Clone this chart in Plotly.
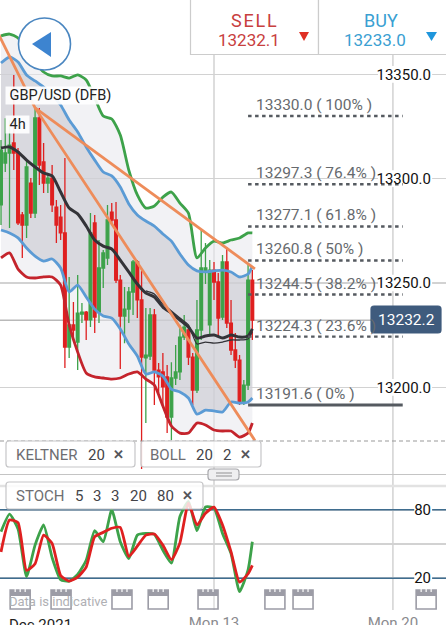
import plotly.graph_objects as go

WIDTH, HEIGHT = 446, 625

# 4h candles, numbered from the left edge of the window
OPEN = [13287.4, 13307.5, 13312.3, 13317.1, 13312.8, 13282.6, 13277.8, 13297.9, 13283.5, 13329.1,
        13308.0, 13297.9, 13300.3, 13286.4, 13281.6, 13274.0, 13219.3, 13229.9, 13221.7, 13235.1,
        13236.1, 13232.3, 13278.8, 13236.1, 13257.2, 13262.0, 13284.0, 13280.2, 13251.4, 13234.2,
        13237.5, 13245.7, 13260.1, 13241.9, 13214.1, 13215.0, 13234.7, 13208.3, 13207.4, 13205.0,
        13185.8, 13204.5, 13207.4, 13224.1, 13227.5, 13214.5, 13198.7, 13227.5, 13255.3, 13229.9,
        13256.2, 13250.5, 13233.7, 13260.1, 13230.8, 13217.9, 13213.1, 13193.0, 13201.1, 13251.4]
HIGH = [13318.5, 13329.0, 13328.0, 13349.7, 13314.7, 13284.0, 13308.9, 13300.3, 13333.9, 13333.9,
        13317.1, 13301.8, 13306.5, 13289.8, 13287.4, 13309.9, 13252.9, 13240.9, 13253.8, 13240.4,
        13236.6, 13283.5, 13282.6, 13270.6, 13265.8, 13287.4, 13288.3, 13288.8, 13253.8, 13248.1,
        13248.1, 13261.0, 13261.0, 13255.8, 13238.0, 13238.0, 13237.5, 13211.7, 13216.5, 13210.7,
        13212.1, 13220.3, 13229.9, 13234.7, 13228.9, 13216.5, 13241.9, 13275.4, 13269.2, 13261.0,
        13260.1, 13254.8, 13263.4, 13267.3, 13241.9, 13226.0, 13215.5, 13203.5, 13258.6, 13256.2]
LOW = [13277.8, 13303.2, 13276.4, 13304.1, 13277.8, 13262.0, 13271.6, 13281.1, 13281.1, 13297.0,
       13293.1, 13293.1, 13284.0, 13269.2, 13270.6, 13209.3, 13214.1, 13224.1, 13208.3, 13230.8,
       13222.7, 13228.9, 13226.0, 13230.8, 13247.6, 13258.6, 13277.8, 13250.0, 13208.8, 13221.2,
       13230.8, 13234.7, 13233.2, 13160.9, 13182.9, 13213.1, 13191.5, 13197.3, 13190.6, 13178.1,
       13174.8, 13201.1, 13203.5, 13222.7, 13210.7, 13191.5, 13197.3, 13222.7, 13249.5, 13225.1,
       13241.9, 13224.1, 13232.3, 13228.4, 13215.5, 13209.3, 13191.6, 13191.6, 13198.7, 13222.7]
CLOSE = [13313.7, 13312.3, 13316.1, 13312.3, 13278.8, 13277.8, 13305.6, 13283.5, 13329.1, 13306.5,
         13297.9, 13300.3, 13287.4, 13277.8, 13274.0, 13219.3, 13229.9, 13227.5, 13235.6, 13236.1,
         13232.3, 13274.0, 13233.7, 13257.2, 13264.4, 13280.2, 13280.2, 13251.4, 13234.2, 13237.5,
         13245.7, 13260.1, 13241.9, 13214.5, 13215.5, 13234.7, 13208.3, 13205.0, 13200.2, 13185.8,
         13204.5, 13207.4, 13224.1, 13228.9, 13214.5, 13198.7, 13227.5, 13257.2, 13257.2, 13256.2,
         13250.5, 13233.2, 13260.1, 13230.8, 13217.9, 13213.1, 13193.0, 13201.1, 13251.4, 13232.2]
CANDLE = list(range(len(OPEN)))

# Indicator samples, taken every second candle
LINE_X = [0, 2, 4, 6, 8, 10, 12, 14, 16, 18, 20, 22, 24, 26, 28, 30, 32, 34, 36, 38, 40, 42, 44,
          46, 48, 50, 52, 54, 56, 58, 59]
KELTNER_UPPER = [13368.4, 13369.3, 13367.4, 13361.7, 13355.9, 13351.1, 13349.2, 13349.2, 13348.2,
                 13349.7, 13347.3, 13338.7, 13330.0, 13328.6, 13320.9, 13304.1, 13292.2, 13285.9,
                 13286.9, 13291.2, 13293.6, 13288.3, 13283.5, 13262.0, 13266.8, 13270.1, 13269.2,
                 13270.6, 13271.6, 13274.0, 13274.0]
BOLL_UPPER = [13355.4, 13358.3, 13355.9, 13349.7, 13346.8, 13343.9, 13340.1, 13335.3, 13328.1,
              13322.4, 13315.2, 13308.9, 13303.2, 13301.3, 13296.0, 13287.9, 13282.6, 13279.7,
              13277.3, 13273.5, 13270.1, 13263.9, 13258.6, 13255.8, 13255.3, 13255.8, 13256.2,
              13255.3, 13252.9, 13254.3, 13258.1]
MIDDLE = [13314.7, 13315.2, 13312.8, 13308.9, 13305.6, 13302.7, 13301.3, 13293.6, 13285.9, 13283.1,
          13277.3, 13270.6, 13267.7, 13266.3, 13261.0, 13255.3, 13249.5, 13245.2, 13243.3, 13238.5,
          13235.6, 13232.3, 13228.9, 13223.6, 13224.6, 13225.1, 13223.6, 13225.1, 13224.1, 13224.6,
          13228.0]
MIDDLE2_X = [34, 36, 38, 40, 42, 44, 46, 48, 50, 52, 54, 56, 58, 59]
MIDDLE2 = [13246.2, 13244.7, 13239.9, 13236.6, 13233.2, 13229.9, 13220.8, 13221.7, 13221.2, 13221.7,
           13222.7, 13222.7, 13223.2, 13226.5]
BOLL_LOWER = [13275.4, 13274.0, 13271.6, 13266.8, 13262.9, 13260.5, 13261.5, 13257.2, 13245.7,
              13249.0, 13243.3, 13237.5, 13234.2, 13233.2, 13228.0, 13220.8, 13215.0, 13206.4,
              13207.4, 13205.4, 13199.2, 13197.8, 13194.9, 13187.2, 13189.1, 13188.7, 13188.2,
              13193.0, 13192.5, 13193.0, 13194.9]
KELTNER_LOWER = [13262.0, 13264.4, 13256.7, 13252.9, 13252.4, 13252.9, 13252.9, 13249.0, 13229.9,
                 13216.9, 13206.9, 13205.0, 13204.5, 13204.0, 13204.5, 13206.4, 13207.4, 13204.0,
                 13201.1, 13191.1, 13181.5, 13178.1, 13178.1, 13182.9, 13182.0, 13179.6, 13179.1,
                 13179.1, 13176.2, 13178.1, 13182.9]

STOCH_K = [60.8, 76.2, 63.2, 21.5, 49.0, 66.7, 38.1, 18.8, 17.4, 23.3, 35.7, 61.7, 52.0, 80.0, 52.0,
           37.2, 57.8, 59.3, 58.4, 44.5, 33.3, 74.1, 87.4, 61.7, 82.4, 81.5, 59.3, 41.6, 8.2, 27.4,
           52.0]
STOCH_D = [43.1, 71.1, 68.8, 26.8, 32.7, 57.8, 50.5, 22.4, 17.4, 20.9, 29.8, 56.4, 60.2, 63.8, 64.6,
           39.2, 48.1, 57.8, 58.7, 49.0, 36.3, 51.0, 85.9, 66.7, 77.0, 82.4, 66.7, 43.1, 16.5, 23.9,
           31.3]

# Fibonacci retracement levels
FIB_LEVELS = [13330.0, 13297.3, 13277.1, 13260.8, 13244.5, 13224.3, 13191.6]
FIB_PERCENT = ["100%", "76.4%", "61.8%", "50%", "38.2%", "23.6%", "0%"]

# Fan drawn from the swing high
FAN_X = [-1, 8, 59.6]
FAN_STEEP = [13371.0, 13333.9, 13174.6]
FAN_SHALLOW = [13333.9, 13256.8]

PRICE_TICKS = [13350, 13300, 13250, 13200]
PRICE_TICK_TEXT = ["13350.0", "13300.0", "13250.0", "13200.0"]
STOCH_TICKS = [0, 20, 50, 80, 100]
STOCH_TICK_TEXT = ["", "20", "", "80", ""]
WEEK_TICKS = [50, 92]
WEEK_TICK_TEXT = ["Mon 13", "Mon 20"]
EVENT_CANDLES = [4.5, 14.1, 28.4, 36.9, 48.6, 64.3, 70.9, 99.8]
LAST_PRICE = 13232.2
SELL_PRICE = "13232.1"
BUY_PRICE = "13233.0"

X_RANGE = [-0.235, 104.46]
PRICE_RANGE = [13158.5, 13385.6]

GREEN = "#3da24a"
RED = "#df2020"
BLUE = "#5b9bd5"
BLACK = "#333338"
DARK_RED = "#c4242c"
ORANGE = "#ee8c5a"
GRID = "#d2d2d2"
LEVEL = "#3f6d8f"
FONT = "Roboto"


def px(x):
    return x / WIDTH


def py(y):
    return 1 - y / HEIGHT


def idx_px(i):
    return (i - X_RANGE[0]) / (X_RANGE[1] - X_RANGE[0]) * WIDTH


fig = go.Figure()

# Channel fills sit on the base subplot so the candles stay on top of them
fig.add_trace(go.Scatter(x=LINE_X, y=KELTNER_UPPER, mode="lines", line=dict(width=0, shape="spline", smoothing=0.6)))
fig.add_trace(go.Scatter(x=LINE_X, y=KELTNER_LOWER, mode="lines", line=dict(width=0, shape="spline", smoothing=0.6),
                         fill="tonexty", fillcolor="rgba(232,232,236,0.55)"))
fig.add_trace(go.Scatter(x=LINE_X, y=BOLL_UPPER, mode="lines", line=dict(width=0, shape="spline", smoothing=0.6)))
fig.add_trace(go.Scatter(x=LINE_X, y=BOLL_LOWER, mode="lines", line=dict(width=0, shape="spline", smoothing=0.6),
                         fill="tonexty", fillcolor="rgba(196,196,204,0.55)"))

fig.add_trace(go.Candlestick(
    x=CANDLE, open=OPEN, high=HIGH, low=LOW, close=CLOSE, yaxis="y3",
    increasing=dict(line=dict(color=GREEN, width=1.3), fillcolor=GREEN),
    decreasing=dict(line=dict(color=RED, width=1.3), fillcolor=RED),
    whiskerwidth=0,
))


def indicator(x, y, color, width, axis="y3"):
    fig.add_trace(go.Scatter(x=x, y=y, mode="lines", yaxis=axis,
                             line=dict(color=color, width=width, shape="spline", smoothing=0.6)))


indicator(LINE_X, KELTNER_UPPER, GREEN, 2.8)
indicator(LINE_X, KELTNER_LOWER, DARK_RED, 2.8)
indicator(LINE_X, BOLL_UPPER, BLUE, 2.8)
indicator(LINE_X, BOLL_LOWER, BLUE, 2.8)
indicator(MIDDLE2_X, MIDDLE2, BLACK, 1.3)
indicator(LINE_X, MIDDLE, BLACK, 3)

# Fan lines
fig.add_trace(go.Scatter(x=FAN_X, y=FAN_STEEP, mode="lines", yaxis="y3", line=dict(color=ORANGE, width=2.8)))
fig.add_trace(go.Scatter(x=FAN_X[1:], y=FAN_SHALLOW, mode="lines", yaxis="y3", line=dict(color=ORANGE, width=2.8)))

# Fibonacci levels and their captions
FIB_X = [58, 94.3]
for level, pct in zip(FIB_LEVELS, FIB_PERCENT):
    solid = pct == "0%"
    fig.add_trace(go.Scatter(x=FIB_X, y=[level, level], mode="lines", yaxis="y3",
                             line=dict(color="#555a60", width=3 if solid else 2.4,
                                       dash="solid" if solid else "3.5px,3.5px")))
    fig.add_annotation(x=59.4, y=level, xref="x", yref="y", xanchor="left", yanchor="bottom", yshift=0,
                       text=f"{level:.1f} ( {pct} )", showarrow=False,
                       font=dict(family=FONT, size=15.5, color="#666a6e"))

# Stochastic panel
fig.add_trace(go.Scatter(x=LINE_X, y=STOCH_K, mode="lines", xaxis="x2", yaxis="y2",
                         line=dict(color=GREEN, width=2.8, shape="spline", smoothing=0.5)))
fig.add_trace(go.Scatter(x=LINE_X, y=STOCH_D, mode="lines", xaxis="x2", yaxis="y2",
                         line=dict(color=RED, width=2.8, shape="spline", smoothing=0.5)))

shapes = []
annotations = list(fig.layout.annotations)

# Week separators run through both panels
for tick in WEEK_TICKS:
    shapes.append(dict(type="line", xref="x", yref="paper", x0=tick, x1=tick, y0=py(610), y1=py(55),
                       line=dict(color=GRID, width=1.5), layer="below"))

# Last traded price level
shapes.append(dict(type="line", xref="x", yref="y", x0=X_RANGE[0], x1=87, y0=LAST_PRICE, y1=LAST_PRICE,
                   line=dict(color="#b9b9b9", width=1.5), layer="between"))

# White gaps behind the axis numbers
for tick in PRICE_TICKS:
    shapes.append(dict(type="rect", xref="x", yref="y", x0=88.5, x1=101.2, y0=tick - 4, y1=tick + 4,
                       fillcolor="white", line=dict(width=0), layer="between"))

# Overbought and oversold levels
for tick in (20, 80):
    shapes.append(dict(type="line", xref="x2", yref="y2", x0=X_RANGE[0], x1=X_RANGE[1], y0=tick, y1=tick,
                       line=dict(color=LEVEL, width=1.5), layer="between"))
    shapes.append(dict(type="rect", xref="x2", yref="y2", x0=97, x1=101.2, y0=tick - 6, y1=tick + 6,
                       fillcolor="white", line=dict(width=0), layer="between"))

# Panel separators and the dashed lower edge of the price panel
shapes.append(dict(type="line", xref="paper", yref="paper", x0=0, x1=1, y0=py(441), y1=py(441),
                   line=dict(color="#9a9a9a", width=1.2, dash="4px,3px"), layer="above"))
shapes.append(dict(type="line", xref="paper", yref="paper", x0=0, x1=1, y0=py(474.5), y1=py(474.5),
                   line=dict(color="#c4c4c4", width=1.2), layer="above"))
shapes.append(dict(type="line", xref="paper", yref="paper", x0=0, x1=1, y0=py(486), y1=py(486),
                   line=dict(color="#e2e2e2", width=2.5), layer="above"))


def rounded_rect(x0, y0, x1, y1, r, fill, line_color, line_width=1.2):
    path = (f"M {px(x0 + r)} {py(y0)} L {px(x1 - r)} {py(y0)} Q {px(x1)} {py(y0)} {px(x1)} {py(y0 + r)} "
            f"L {px(x1)} {py(y1 - r)} Q {px(x1)} {py(y1)} {px(x1 - r)} {py(y1)} "
            f"L {px(x0 + r)} {py(y1)} Q {px(x0)} {py(y1)} {px(x0)} {py(y1 - r)} "
            f"L {px(x0)} {py(y0 + r)} Q {px(x0)} {py(y0)} {px(x0 + r)} {py(y0)} Z")
    shapes.append(dict(type="path", xref="paper", yref="paper", path=path, fillcolor=fill,
                       line=dict(color=line_color, width=line_width), layer="above"))


def text(x, y, label, size, color, anchor="left", bg=None, weight=None):
    annotations.append(dict(xref="paper", yref="paper", x=px(x), y=py(y), xanchor=anchor, yanchor="middle",
                            text=f"<b>{label}</b>" if weight else label, showarrow=False, borderpad=0,
                            bgcolor=bg, font=dict(family=FONT, size=size, color=color)))


def triangle(points, fill):
    path = "M " + " L ".join(f"{px(a)} {py(b)}" for a, b in points) + " Z"
    shapes.append(dict(type="path", xref="paper", yref="paper", path=path, fillcolor=fill,
                       line=dict(width=0), layer="above"))


# Indicator chips
CHIP_FILL = "rgba(255,255,255,0.82)"
CHIP_LINE = "#c6c6c8"
rounded_rect(6, 441, 135, 467, 3, CHIP_FILL, CHIP_LINE)
rounded_rect(141, 441, 261, 467, 3, CHIP_FILL, CHIP_LINE)
rounded_rect(6, 482, 203, 509, 3, CHIP_FILL, CHIP_LINE)
text(15, 454.5, "KELTNER", 15, "#6e6e72")
text(87, 454.5, "20", 15, "#444448")
text(118, 454, "✕", 13, "#55555a", "center", weight=True)
text(149, 454.5, "BOLL", 15, "#6e6e72")
text(195, 454.5, "20", 15, "#444448")
text(222, 454.5, "2", 15, "#444448")
text(245, 454, "✕", 13, "#55555a", "center", weight=True)
text(15, 496, "STOCH", 15, "#6e6e72")
text(74, 496, "5", 15, "#444448")
text(92, 496, "3", 15, "#444448")
text(110, 496, "3", 15, "#444448")
text(129, 496, "20", 15, "#444448")
text(156, 496, "80", 15, "#444448")
text(187, 495.5, "✕", 13, "#55555a", "center", weight=True)

# Panel drag handle
rounded_rect(208, 469, 239, 480, 3, "#efeff1", "#a8a8ac", 1.2)
shapes.append(dict(type="line", xref="paper", yref="paper", x0=px(216), x1=px(232), y0=py(473), y1=py(473),
                   line=dict(color="#a0a0a4", width=1.2), layer="above"))
shapes.append(dict(type="line", xref="paper", yref="paper", x0=px(216), x1=px(232), y0=py(476), y1=py(476),
                   line=dict(color="#a0a0a4", width=1.2), layer="above"))

# Disclaimer sits under the calendar markers
text(8, 601.5, "Data is indicative", 13, "#b0b0b4")

# Economic calendar markers along the foot of the chart
ICON = "#9c9ca6"
for event in EVENT_CANDLES:
    cx = idx_px(event)
    shapes.append(dict(type="rect", xref="paper", yref="paper", x0=px(cx - 10), x1=px(cx + 10),
                       y0=py(609), y1=py(590), fillcolor="rgba(255,255,255,0.25)",
                       line=dict(color=ICON, width=1.6), layer="above"))
    shapes.append(dict(type="rect", xref="paper", yref="paper", x0=px(cx - 10), x1=px(cx + 10),
                       y0=py(596), y1=py(590), fillcolor=ICON, line=dict(width=0), layer="above"))
    for off in (-5, 0, 5):
        shapes.append(dict(type="line", xref="paper", yref="paper", x0=px(cx + off), x1=px(cx + off),
                           y0=py(592), y1=py(589), line=dict(color="white", width=1.2), layer="above"))

# Month caption on the time axis
annotations.append(dict(xref="paper", yref="paper", x=px(8), y=py(614.5), xanchor="left", yanchor="top",
                        text="Dec 2021", showarrow=False, borderpad=0, bgcolor="white",
                        font=dict(family=FONT, size=15, color="#222222")))

# Last-price tag
rounded_rect(371, 306, 441, 333, 3, "#3f5b7d", "#3f5b7d")
annotations.append(dict(xref="paper", yref="y", x=px(406), y=LAST_PRICE, xanchor="center", yanchor="middle",
                        text=f"{LAST_PRICE:.1f}", showarrow=False,
                        font=dict(family=FONT, size=15.5, color="white")))

# Symbol and timeframe captions
text(5, 96, "&nbsp;GBP/USD (DFB)&nbsp;", 14.5, "#222222", bg="rgba(255,255,255,0.92)")
text(5, 124, "&nbsp;4h&nbsp;", 14.5, "#222222", bg="rgba(255,255,255,0.92)")

# Back button
shapes.append(dict(type="circle", xref="paper", yref="paper", x0=px(18.5), x1=px(70.5), y0=py(18), y1=py(70),
                   fillcolor="white", line=dict(color="#4a86c0", width=1.6), layer="above"))
triangle([(32, 44), (51, 32), (51, 57)], "#3d84d0")

# Dealing tickets
shapes.append(dict(type="rect", xref="paper", yref="paper", x0=px(190.5), x1=px(318.5), y0=py(54.5), y1=py(-2),
                   fillcolor="white", line=dict(color="#cccccc", width=1.2), layer="above"))
shapes.append(dict(type="rect", xref="paper", yref="paper", x0=px(318.5), x1=px(448), y0=py(54.5), y1=py(-2),
                   fillcolor="white", line=dict(color="#cccccc", width=1.2), layer="above"))
text(253.5, 20, "S\u200aE\u200aL\u200aL", 18, "#c8403e", "center")
text(248.5, 39.5, SELL_PRICE, 17, "#c8403e", "center")
text(381, 20, "BUY", 18, "#3aa0d2", "center")
text(375, 39.5, BUY_PRICE, 17, "#3aa0d2", "center")
triangle([(299, 32), (309, 32), (304, 41)], "#df3024")
triangle([(426, 32), (437, 32), (431.5, 41)], "#1f96dc")

fig.update_layout(
    width=WIDTH,
    height=HEIGHT,
    margin=dict(l=0, r=0, t=0, b=0),
    paper_bgcolor="white",
    plot_bgcolor="white",
    showlegend=False,
    hovermode=False,
    boxgap=0.1,
    shapes=shapes,
    annotations=annotations,
    xaxis=dict(domain=[0, 1], range=X_RANGE, showgrid=False, showticklabels=False, ticks="", zeroline=False,
               rangeslider=dict(visible=False), anchor="y", showline=False, automargin=False),
    yaxis=dict(domain=[py(474), 1], range=PRICE_RANGE, side="right", tickvals=PRICE_TICKS,
               ticktext=PRICE_TICK_TEXT, ticklabelposition="inside", ticklabelstandoff=12, ticks="",
               showgrid=True, gridcolor=GRID, gridwidth=1.5, zeroline=False, showline=False, automargin=False,
               tickfont=dict(family=FONT, size=15, color="#111111")),
    yaxis3=dict(overlaying="y", side="right", range=PRICE_RANGE, visible=False, automargin=False),
    xaxis2=dict(domain=[0, 1], range=X_RANGE, anchor="y2", showgrid=False, tickvals=WEEK_TICKS,
                ticktext=WEEK_TICK_TEXT, ticks="", ticklabelstandoff=11, zeroline=False, showline=False,
                automargin=False, tickfont=dict(family=FONT, size=15, color="#8a8a8e")),
    yaxis2=dict(domain=[py(601), py(487)], range=[0, 100], anchor="x2", side="right", tickvals=STOCH_TICKS,
                ticktext=STOCH_TICK_TEXT, ticklabelposition="inside", ticklabelstandoff=12, ticks="",
                showgrid=True, gridcolor=GRID, gridwidth=1.5, zeroline=False, showline=False, automargin=False,
                tickfont=dict(family=FONT, size=15, color="#111111")),
)

fig.write_html("out.html", config=dict(displayModeBar=False, staticPlot=True))
